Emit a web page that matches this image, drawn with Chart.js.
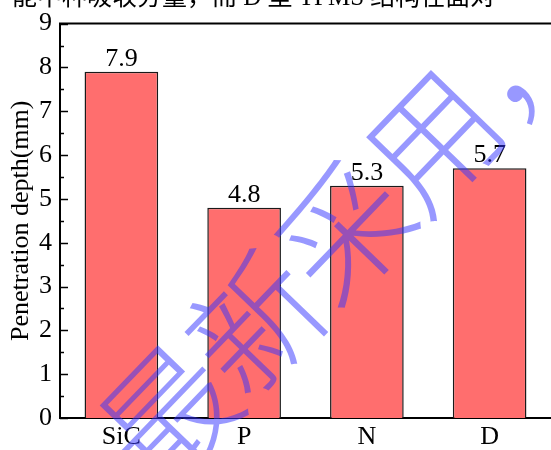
<!DOCTYPE html>
<html>
<head>
<meta charset="utf-8">
<script src="https://cdn.jsdelivr.net/npm/chart.js@4"></script>
<style>
  html, body { margin: 0; padding: 0; background: #fff; }
  #wrap { width: 551px; height: 450px; }
</style>
</head>
<body>
<div id="wrap"><canvas id="myChart" width="551" height="450"></canvas></div>
<script>
// chart data
const categories = ['SiC', 'P', 'N', 'D'];
const depthValues = [7.9, 4.8, 5.3, 5.7];
const yTicks = [0, 1, 2, 3, 4, 5, 6, 7, 8, 9];
const topLine = '能中种吸收分量，而 D 型 TPMS 结构在面对';
const watermarkChars = ['最', '新', '采', '用', '，'];

const serif = '"Liberation Serif", "Times New Roman", serif';

// frame on top + inward tick marks
const framePlugin = {
    id: 'frame',
    afterDraw(chart) {
        const ctx = chart.ctx;
        const area = chart.chartArea;
        const y = chart.scales.y;
        ctx.save();
        ctx.strokeStyle = '#000';
        ctx.lineWidth = 2;
        ctx.beginPath();
        ctx.moveTo(area.left - 1, area.top);
        ctx.lineTo(area.right, area.top);
        ctx.stroke();
        ctx.lineWidth = 1.5;
        for (let v = 0; v <= 9; v += 0.5) {
            const py = Math.round(y.getPixelForValue(v)) + 0.5;
            const len = Number.isInteger(v) ? 8 : 4;
            ctx.beginPath();
            ctx.moveTo(area.left, py);
            ctx.lineTo(area.left + len, py);
            ctx.stroke();
        }
        ctx.restore();
    }
};

// numbers over the bars
const valuePlugin = {
    id: 'values',
    afterDatasetsDraw(chart) {
        const ctx = chart.ctx;
        const meta = chart.getDatasetMeta(0);
        ctx.save();
        ctx.font = '26px ' + serif;
        ctx.fillStyle = '#000';
        ctx.textAlign = 'center';
        ctx.textBaseline = 'alphabetic';
        meta.data.forEach(function(bar, i) {
            ctx.fillText(depthValues[i].toFixed(1), bar.x, bar.y - 6);
        });
        ctx.restore();
    }
};

// cut-off text line at the top and the watermark
const overlayPlugin = {
    id: 'overlay',
    afterDraw(chart) {
        const ctx = chart.ctx;
        ctx.save();
        ctx.font = '25px ' + serif + ', "Noto Sans CJK SC"';
        ctx.fillStyle = '#000';
        ctx.textBaseline = 'alphabetic';
        ctx.textAlign = 'left';
        ctx.fillText(topLine, 12, 5);
        ctx.restore();

        ctx.save();
        ctx.translate(168, 414);
        ctx.rotate(-46 * Math.PI / 180);
        ctx.font = '300 130px "Noto Sans CJK SC"';
        ctx.fillStyle = 'rgba(50,50,255,0.5)';
        ctx.textAlign = 'center';
        ctx.textBaseline = 'middle';
        watermarkChars.forEach(function(ch, i) {
            ctx.fillText(ch, i * 127, 0);
        });
        ctx.restore();
    }
};

function drawChart() {
    const data = {
        labels: categories,
        datasets: [{
            data: depthValues,
            backgroundColor: 'rgb(255,110,110)',
            borderColor: '#1a1a1a',
            borderWidth: 1.5,
            barPercentage: 0.6,
            categoryPercentage: 1.0
        }]
    };

    const config = {
        type: 'bar',
        data: data,
        options: {
            responsive: false,
            animation: false,
            layout: { padding: { top: 22, right: 0, left: 0, bottom: 0 } },
            plugins: {
                legend: { display: false },
                tooltip: { enabled: false }
            },
            scales: {
                x: {
                    grid: { display: false, drawTicks: false },
                    border: { display: true, color: '#000', width: 2 },
                    ticks: { color: '#000', font: { family: serif, size: 26 }, padding: 4 },
                    afterFit: function(scale) { scale.height = 32; }
                },
                y: {
                    min: 0,
                    max: 9,
                    grid: { display: false, drawTicks: false },
                    border: { display: true, color: '#000', width: 2 },
                    afterBuildTicks: function(scale) {
                        scale.ticks = yTicks.map(function(v) { return { value: v }; });
                    },
                    ticks: { color: '#000', font: { family: serif, size: 26 }, padding: 8 },
                    title: {
                        display: true,
                        text: 'Penetration depth(mm)',
                        color: '#000',
                        font: { family: serif, size: 26 },
                        padding: { top: 6, bottom: 0 }
                    },
                    afterFit: function(scale) { scale.width = 60; }
                }
            }
        },
        plugins: [framePlugin, valuePlugin, overlayPlugin]
    };

    new Chart(document.getElementById('myChart'), config);
}

drawChart();
</script>
</body>
</html>
